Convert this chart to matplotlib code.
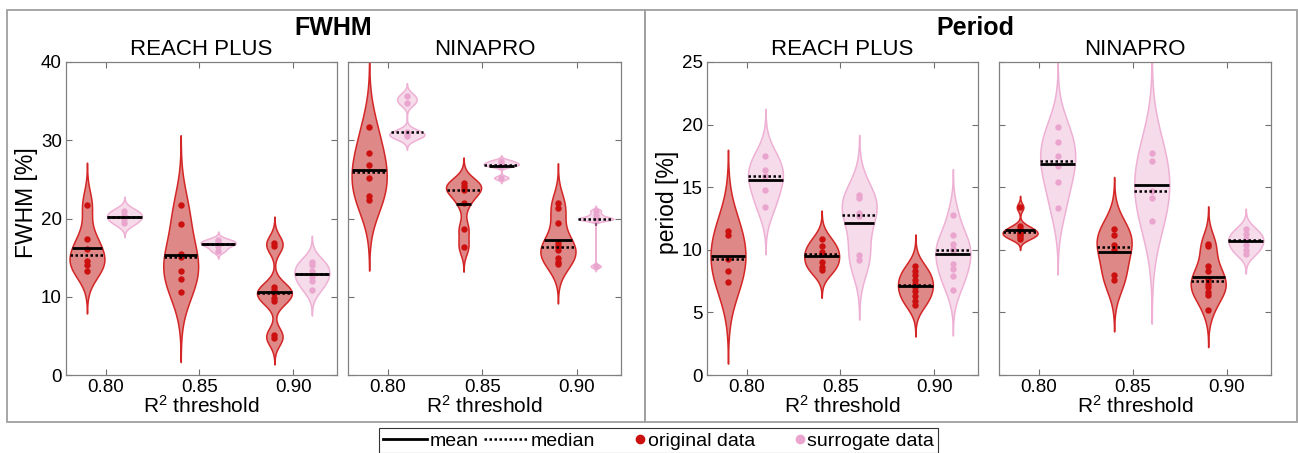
import numpy as np
import matplotlib
matplotlib.use("Agg")
import matplotlib.pyplot as plt
from matplotlib.lines import Line2D
from matplotlib.patches import Rectangle
from matplotlib.ticker import FormatStrFormatter
from matplotlib.legend_handler import HandlerLine2D

plt.rcParams['font.family'] = ['Liberation Sans', 'DejaVu Sans']
plt.rcParams['mathtext.default'] = 'regular'

thresholds = [0.80, 0.85, 0.90]
datasets = ["REACH PLUS", "NINAPRO"]

# FWHM [%], one list per R^2 threshold
fwhm_reach_orig = [[21.7, 17.4, 16.1, 14.6, 14.1, 13.3],
                   [21.7, 19.3, 15.4, 15.1, 13.3, 12.3, 10.6],
                   [16.9, 16.5, 11.3, 10.9, 10.5, 9.9, 9.4, 5.1, 4.7]]
fwhm_reach_surr = [[21.0, 20.5, 20.0, 19.4],
                   [17.3, 17.0, 16.8, 16.5, 15.9],
                   [14.5, 14.0, 13.3, 12.5, 12.0, 10.9]]
fwhm_nina_orig = [[31.7, 28.4, 26.8, 25.2, 22.9, 22.4],
                  [24.6, 24.2, 23.8, 23.6, 22.0, 18.7, 16.4],
                  [22.0, 21.4, 19.4, 16.9, 16.5, 16.3, 16.0, 15.0, 14.4, 14.2]]
fwhm_nina_surr = [[35.6, 34.8, 31.0, 30.7, 30.5],
                  [27.4, 27.1, 26.9, 26.7, 25.2],
                  [21.0, 20.5, 20.1, 20.0, 19.9, 19.8, 13.9]]

# period [%]
period_reach_orig = [[11.5, 11.2, 9.3, 8.3, 7.4],
                     [10.9, 10.3, 9.8, 9.7, 9.0, 8.6, 8.4],
                     [8.7, 8.3, 8.0, 7.6, 7.3, 7.0, 6.7, 6.3, 5.9, 5.6]]
period_reach_surr = [[17.5, 16.4, 15.9, 14.8, 13.4],
                     [14.4, 14.1, 12.9, 12.7, 9.6, 9.2],
                     [12.8, 11.2, 10.5, 10.1, 10.0, 8.9, 8.5, 7.9, 6.8]]
period_nina_orig = [[13.4, 11.9, 11.7, 11.5, 11.4, 11.3, 11.2, 11.0, 10.9],
                    [11.7, 11.2, 10.4, 10.0, 8.0, 7.6],
                    [10.5, 10.3, 8.7, 8.3, 7.7, 7.3, 7.0, 6.6, 6.4, 5.2]]
period_nina_surr = [[19.8, 18.6, 17.5, 16.7, 15.4, 13.3],
                    [17.7, 17.1, 14.7, 14.1, 12.3],
                    [11.7, 11.3, 10.9, 10.8, 10.4, 10.0, 9.7]]

ORIG_FILL, ORIG_EDGE, ORIG_DOT = "#df8888", "#d42626", "#cc1010"
SURR_FILL, SURR_EDGE, SURR_DOT = "#f6dcea", "#eeb0d4", "#eaa5cf"
HALF_W = 0.0093
OFFSET = 0.01


def ks_density(data):
    # normal kernel, bandwidth from the MAD-based rule, grid padded by 3 bandwidths
    data = np.asarray(data, float)
    n = len(data)
    sig = np.median(np.abs(data - np.median(data))) / 0.6745
    if sig == 0:
        sig = data.std()
    bw = sig * (4.0 / (3 * n)) ** 0.2
    grid = np.linspace(data.min() - 3 * bw, data.max() + 3 * bw, 200)
    dens = np.exp(-0.5 * ((grid[:, None] - data[None, :]) / bw) ** 2).sum(axis=1)
    return grid, dens / dens.max()


def violin(ax, pos, data, fill, edge, dot):
    grid, dens = ks_density(data)
    half = dens * HALF_W
    ax.fill_betweenx(grid, pos - half, pos + half, facecolor=fill,
                     edgecolor=edge, linewidth=1.1, zorder=2)
    ax.plot(np.full(len(data), pos), data, 'o', color=dot, ms=4.6,
            mec='none', zorder=3)
    mean = np.mean(data)
    med = np.median(data)
    w = np.interp(mean, grid, dens) * HALF_W
    ax.plot([pos - w, pos + w], [mean, mean], color='k', lw=2.0,
            solid_capstyle='butt', zorder=4)
    w = np.interp(med, grid, dens) * HALF_W
    ax.plot([pos - w, pos + w], [med, med], color='k', lw=1.8,
            ls=(0, (1, 1)), zorder=5)


class DotAtEnd(HandlerLine2D):
    # legend dot sits at the right end of the handle box, next to its text
    def get_xdata(self, legend, xdescent, ydescent, width, height, fontsize):
        end = -xdescent + width
        return [end - 8, end], [end - 4]


fig = plt.figure(figsize=(12.98, 4.53), dpi=100)
W, H = 1298.0, 453.0

panels = [
    (66, 337, fwhm_reach_orig, fwhm_reach_surr, 40, 10, "FWHM [%]", datasets[0]),
    (348, 621, fwhm_nina_orig, fwhm_nina_surr, 40, 10, None, datasets[1]),
    (707, 978, period_reach_orig, period_reach_surr, 25, 5, "period [%]", datasets[0]),
    (999, 1271, period_nina_orig, period_nina_surr, 25, 5, None, datasets[1]),
]

for x0, x1, orig, surr, ymax, ystep, ylab, name in panels:
    ax = fig.add_axes([x0 / W, 1 - 375 / H, (x1 - x0) / W, 313 / H])
    for t, o, s in zip(thresholds, orig, surr):
        violin(ax, t - OFFSET, o, ORIG_FILL, ORIG_EDGE, ORIG_DOT)
        violin(ax, t + OFFSET, s, SURR_FILL, SURR_EDGE, SURR_DOT)
    ax.set_xlim(0.7788, 0.9234)
    ax.set_ylim(0, ymax)
    ax.set_xticks(thresholds)
    ax.xaxis.set_major_formatter(FormatStrFormatter('%.2f'))
    ax.set_yticks(np.arange(0, ymax + 0.1, ystep))
    ax.tick_params(direction='in', top=True, right=True, length=4, width=0.8,
                   color='#707070', labelsize=13.5, pad=3)
    for sp in ax.spines.values():
        sp.set_color('#808080')
        sp.set_linewidth(0.9)
    ax.set_title(name, fontsize=16, pad=5)
    ax.set_xlabel('R$^2$ threshold', fontsize=15, labelpad=-1)
    if ylab:
        ax.set_ylabel(ylab, fontsize=16.5)
        ax.yaxis.set_label_coords(-0.105, 0.55)
    else:
        ax.set_yticklabels([])

fig.text(333 / W, 1 - 28 / H, "FWHM", fontsize=18, fontweight='bold',
         ha='center', va='center')
fig.text(975 / W, 1 - 28 / H, "Period", fontsize=18, fontweight='bold',
         ha='center', va='center')

# grey frames around the two groups
for bx0, bx1 in [(7, 645), (645, 1297)]:
    fig.add_artist(Rectangle((bx0 / W, 1 - 422 / H), (bx1 - bx0) / W, 412 / H,
                             transform=fig.transFigure, fill=False,
                             edgecolor='#a0a0a0', linewidth=1.3))

h_mean = Line2D([], [], color='k', lw=2.0)
h_median = Line2D([], [], color='k', lw=1.8, ls=(0, (1, 1)))
h_orig = Line2D([], [], color=ORIG_DOT, marker='o', ls='none', ms=7, mec='none')
h_surr = Line2D([], [], color=SURR_DOT, marker='o', ls='none', ms=7, mec='none')
leg = fig.legend([h_mean, h_median, h_orig, h_surr],
                 ["mean", "median", "original data", "surrogate data"],
                 handler_map={h_orig: DotAtEnd(), h_surr: DotAtEnd()},
                 loc='upper center', bbox_to_anchor=(658.5 / W, 1 - 428 / H),
                 ncol=4, fontsize=14, frameon=True, fancybox=False,
                 borderpad=0.2, handlelength=2.3, handletextpad=0.1,
                 columnspacing=0.3, borderaxespad=0)
leg.get_frame().set_edgecolor('k')
leg.get_frame().set_linewidth(0.8)

fig.savefig("out.png", dpi=100)
